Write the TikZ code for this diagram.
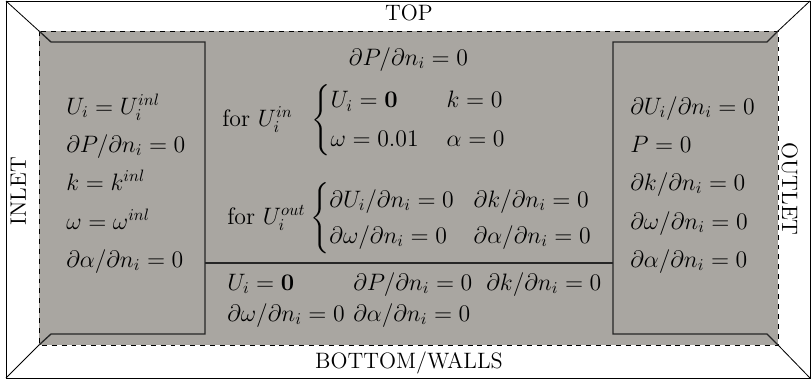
\documentclass[tikz,border=0pt]{standalone}
\usepackage{amsmath}
\definecolor{regiongray}{RGB}{169,166,161}
\tikzset{
  frameline/.style={line width=0.5pt, black},
  boxline/.style={line width=0.8pt, black!85},
  flowregion/.style={fill=regiongray, dashed, line width=0.6pt},
  eq/.style={anchor=base west, inner sep=0pt, font=\Large},
  side/.style={inner sep=0pt, font=\fontsize{13.5}{16}\selectfont},
}
\begin{document}
\begin{tikzpicture}[x=0.606pt, y=-0.606pt]
\useasboundingbox (0,0) rectangle (812,382);
% outer frame
\draw[frameline] (6,1) rectangle (810,378);
% gray dashed domain
\draw[flowregion] (39,31) rectangle (778,345);
% corner diagonals
\coordinate (oTL) at (6,1);
\coordinate (oTR) at (810,1);
\coordinate (oBL) at (6,378);
\coordinate (oBR) at (810,378);
\coordinate (dTL) at (39,31);
\coordinate (dTR) at (778,31);
\coordinate (dBL) at (39,345);
\coordinate (dBR) at (778,345);
\draw[frameline] (oTL) -- (dTL);
\draw[frameline] (oTR) -- (dTR);
\draw[frameline] (oBL) -- (dBL);
\draw[frameline] (oBR) -- (dBR);
% inlet box
\draw[boxline] (dTL) -- (51,42) -- (205,42) -- (205,334) -- (51,334) -- (dBL);
% outlet box
\draw[boxline] (dTR) -- (767,42) -- (613,42) -- (613,334) -- (767,334) -- (dBR);
% separator
\coordinate (sepL) at (205,263);
\coordinate (sepR) at (613,263);
\draw[boxline] (sepL) -- (sepR);
% side labels
\node[side, anchor=base] (top) at (409,20) {TOP};
\node[side, anchor=base] (bottom) at (409,368) {BOTTOM/WALLS};
\node[side, rotate=90, anchor=base] (inlet) at (26,191) {INLET};
\node[side, rotate=-90, anchor=base] (outlet) at (782,189) {OUTLET};
% inlet conditions
\node[eq] (in1) at (66,114) {$U_i = U_i^{inl}$};
\node[eq] (in2) at (66,152) {$\partial P/\partial n_i = 0$};
\node[eq] (in3) at (66,190) {$k = k^{inl}$};
\node[eq] (in4) at (66,229) {$\omega = \omega^{inl}$};
\node[eq] (in5) at (66,267) {$\partial \alpha/\partial n_i = 0$};
% outlet conditions
\node[eq] (out1) at (630,114) {$\partial U_i/\partial n_i = 0$};
\node[eq] (out2) at (630,152) {$P = 0$};
\node[eq] (out3) at (630,190) {$\partial k/\partial n_i = 0$};
\node[eq] (out4) at (630,229) {$\partial \omega/\partial n_i = 0$};
\node[eq] (out5) at (630,267) {$\partial \alpha/\partial n_i = 0$};
% top conditions
\node[eq, anchor=base] (topP) at (408.5,65) {$\partial P/\partial n_i = 0$};
\node[eq] (topin) at (222,126) {for $U_i^{in}$\hspace{11.5pt}$\begin{cases} U_i = \mathbf{0} & k = 0\\[2pt] \omega = 0.01\hspace{2.6pt} & \alpha = 0 \end{cases}$};
\node[eq] (topout) at (227,224) {for $U_i^{out}$\hspace{3pt}$\begin{cases} \partial U_i/\partial n_i = 0\hspace{-2.4pt} & \partial k/\partial n_i = 0\\ \partial \omega/\partial n_i = 0\hspace{-2.4pt} & \partial \alpha/\partial n_i = 0 \end{cases}$};
% wall conditions
\node[eq] (w1) at (227,290) {$U_i = \mathbf{0}$};
\node[eq] (w2) at (353,290) {$\partial P/\partial n_i = 0$};
\node[eq] (w3) at (486,290) {$\partial k/\partial n_i = 0$};
\node[eq] (w4) at (227,321) {$\partial \omega/\partial n_i = 0$};
\node[eq] (w5) at (353,321) {$\partial \alpha/\partial n_i = 0$};
\end{tikzpicture}
\end{document}
